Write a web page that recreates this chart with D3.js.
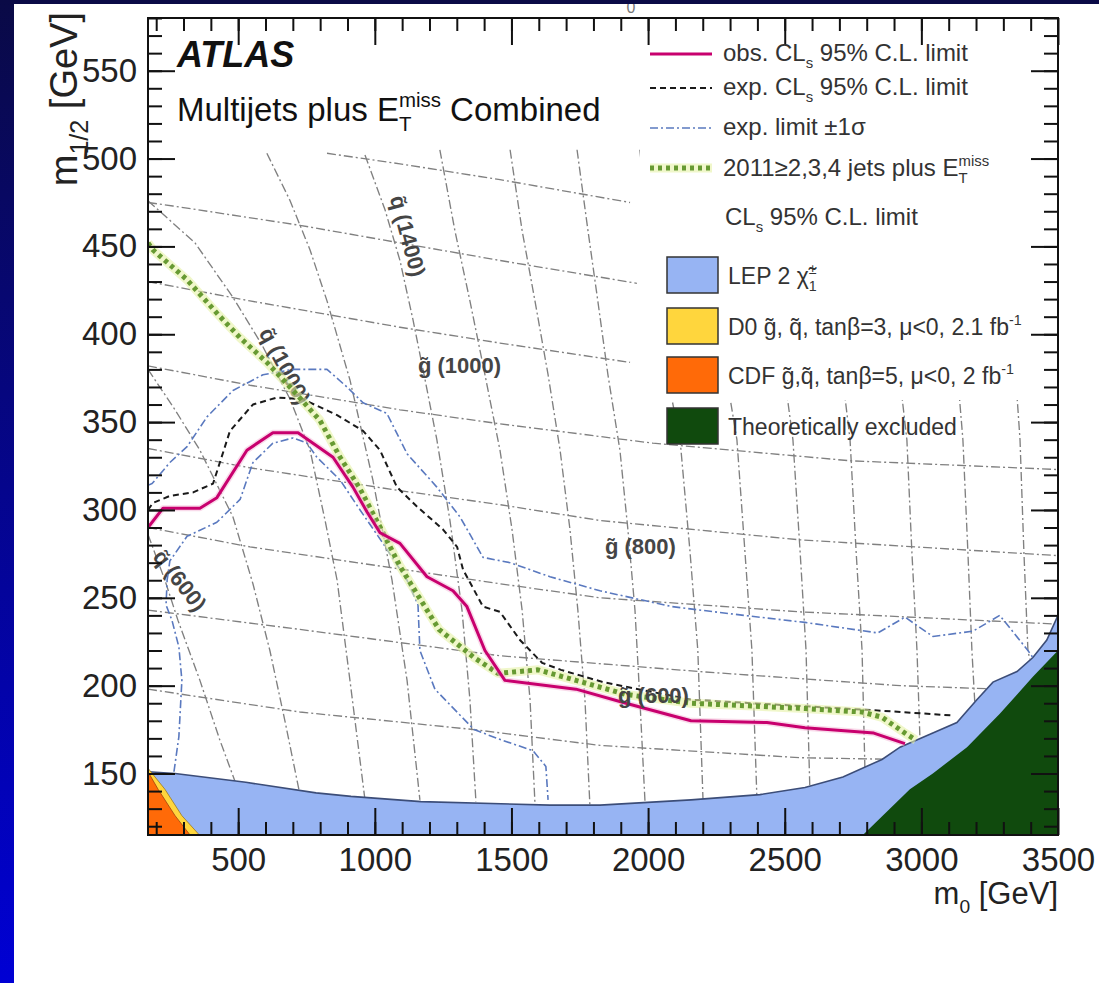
<!DOCTYPE html>
<html>
<head>
<meta charset="utf-8">
<script src="https://cdn.jsdelivr.net/npm/d3@7"></script>
<style>
  html, body { margin: 0; padding: 0; background: #fff; }
  svg { display: block; }
  svg text { font-family: "Liberation Sans", Arial, Helvetica, sans-serif; white-space: pre; }
</style>
</head>
<body>
<svg id="chart" width="1099" height="983"></svg>
<script>
// ---------------- axes ----------------
const m0Domain = [170, 3500];
const m12Domain = [115, 580];
const xMajorTicks = [500, 1000, 1500, 2000, 2500, 3000, 3500];
const xTickLabels = ["500", "1000", "1500", "2000", "2500", "3000", "3500"];
const yMajorTicks = [150, 200, 250, 300, 350, 400, 450, 500, 550];
const yTickLabels = ["150", "200", "250", "300", "350", "400", "450", "500", "550"];
const xMinorTicks = d3.range(200, 3500, 100);
const yMinorTicks = d3.range(120, 581, 10);

// ---------------- limit contours (m0, m1/2) in GeV ----------------
const observedLimit = [[170,290],[225,301],[360,301],[422,307],[532,334],[627,344],[719,344],[847,330],[920,313],[971,299],[1019,287],[1092,281],[1191,262],[1286,254],[1337,245],[1403,220],[1476,203],[1736,198],[1919,190],[2157,180],[2435,179],[2574,176],[2826,173],[2940,167]];
const expectedLimit = [[170,300],[188,304],[250,308],[335,310],[408,315],[433,327],[470,345],[554,360],[642,364],[737,363],[862,354],[957,345],[1019,334],[1081,313],[1154,302],[1249,289],[1301,279],[1323,266],[1396,245],[1458,242],[1531,226],[1612,213],[1681,209],[1835,202],[2157,192],[2826,186],[3119,183]];
const expectedPlus1Sigma = [[170,314],[185,315],[250,327],[313,336],[386,353],[481,368],[591,377],[701,380],[825,380],[898,370],[957,361],[1044,355],[1118,332],[1227,313],[1312,296],[1396,273],[1495,270],[1641,262],[1824,254],[2087,245],[2296,241],[2574,236],[2841,230],[2940,239],[3042,228],[3189,231],[3287,240],[3390,220],[3408,216]];
const expectedMinus1Sigma = [[265,151],[283,171],[294,203],[283,222],[258,237],[236,246],[240,260],[250,271],[313,285],[422,293],[507,306],[554,327],[627,338],[701,341],[752,338],[788,330],[873,317],[946,300],[1030,281],[1118,260],[1158,246],[1165,220],[1220,198],[1363,175],[1465,169],[1579,163],[1626,154],[1634,135]];
const limit2011 = [[170,452],[188,448],[313,431],[422,412],[507,398],[605,384],[701,368],[799,351],[873,330],[946,312],[1030,287],[1092,268],[1191,243],[1235,232],[1363,216],[1451,207],[1597,209],[1736,203],[1919,195],[2157,190],[2574,187],[2783,185],[2856,182],[2940,173],[2980,169]];

// ---------------- previously excluded regions ----------------
const lepChargino = [[170,151],[269,150],[528,145],[785,139],[913,137],[1169,134],[1641,132],[1824,132],[2157,135],[2409,138],[2574,142],[2713,148],[2856,158],[2922,165],[3042,173],[3130,179],[3203,192],[3262,202],[3350,208],[3408,216],[3459,226],[3500,240]];
const theoryExcluded = [[2786,115],[2958,141],[3042,150],[3167,165],[3287,184],[3408,205],[3500,220]];
const d0Limit = [[170,153],[232,141],[294,126],[358,115]];
const cdfLimit = [[170,151],[207,141],[269,126],[324,115]];

// ---------------- iso-mass contours ----------------
const squark600  = [[170,286],[232,260],[280,237],[360,203],[433,169],[499,141]];
const squark800  = [[170,380],[269,357],[360,334],[481,296],[554,258],[616,220],[671,180],[726,138]];
const squark1000 = [[170,476],[342,452],[481,421],[587,394],[690,363],[763,334],[818,294],[862,260],[909,203],[964,135]];
const squark1200 = [[605,503],[690,476],[763,448],[825,419],[909,374],[993,317],[1063,260],[1118,203],[1165,135]];
const squark1400 = [[964,502],[1037,471],[1092,442],[1140,408],[1184,374],[1227,340],[1275,294],[1319,243],[1348,192],[1370,134]];
const squark1600 = [[1238,505],[1293,459],[1348,419],[1403,377],[1458,334],[1502,289],[1539,243],[1568,192],[1586,133]];
const squark1800 = [[1495,505],[1539,459],[1586,419],[1634,377],[1678,334],[1714,289],[1743,243],[1769,192],[1787,132]];
const squark2000 = [[1740,505],[1780,459],[1816,419],[1853,377],[1897,334],[1926,289],[1952,243],[1970,192],[1989,133]];
const squark2200 = [[1970,505],[2025,419],[2073,374],[2117,340],[2153,277],[2182,220],[2201,135]];
const squark2400 = [[2190,505],[2245,419],[2289,374],[2325,340],[2354,277],[2380,220],[2398,137]];
const squark2600 = [[2409,505],[2457,419],[2501,374],[2530,340],[2556,277],[2578,220],[2592,141]];
const squark2800 = [[2629,505],[2676,419],[2713,374],[2739,340],[2761,277],[2783,220],[2794,149]];
const squark3000 = [[2848,505],[2896,419],[2922,374],[2947,340],[2965,277],[2984,220],[2995,169]];
const squark3200 = [[3068,505],[3116,419],[3134,374],[3152,340],[3170,277],[3185,220],[3196,189]];
const squark3400 = [[3287,505],[3335,419],[3346,374],[3361,340],[3375,277],[3390,220],[3397,215]];
const gluino500  = [[170,198],[726,185],[1363,175],[1824,166],[2556,159],[2922,158]];
const gluino600  = [[170,243],[726,232],[1458,217],[2190,208],[2922,200],[3287,198]];
const gluino700  = [[170,290],[543,279],[1458,258],[1824,250],[2556,242],[3500,235]];
const gluino800  = [[170,335],[543,324],[1092,311],[1458,303],[1824,294],[2556,283],[3500,274]];
const gluino900  = [[170,382],[543,371],[1092,357],[1458,349],[2018,338],[2739,328],[3500,323]];
const gluino1000 = [[170,430],[543,419],[1092,404],[1458,395],[1934,384]];
const gluino1100 = [[170,475],[261,473],[726,462],[1092,452],[1458,442],[1959,429]];
const gluino1200 = [[825,503],[1092,497],[1458,488],[1934,475]];

const squarkLabels = [
  { text: "q\u0303 (1400)", m0: 1121, m12: 456 },
  { text: "q\u0303 (1000)", m0: 671, m12: 382 },
  { text: "q\u0303 (600)",  m0: 287, m12: 260 }
];
const gluinoLabels = [
  { text: "g\u0303 (1000)", m0: 1158, m12: 378 },
  { text: "g\u0303 (800)",  m0: 1842, m12: 275 },
  { text: "g\u0303 (600)",  m0: 1890, m12: 190 }
];

const legendLineLabels = [
  ["obs. CL", { sub: "s" }, " 95% C.L. limit"],
  ["exp. CL", { sub: "s" }, " 95% C.L. limit"],
  ["exp. limit \u00b11\u03c3"],
  ["2011\u22652,3,4 jets plus E", { sup: "miss", sub: "T" }],
  ["CL", { sub: "s" }, " 95% C.L. limit"]
];
const legendBoxLabels = [
  ["LEP 2 \u03c7\u0303", { sup: "\u00b1", sub: "1" }],
  ["D0 g\u0303, q\u0303, tan\u03b2=3, \u03bc<0, 2.1 fb", { sup: "-1" }],
  ["CDF g\u0303,q\u0303, tan\u03b2=5, \u03bc<0, 2 fb", { sup: "-1" }],
  ["Theoretically excluded"]
];

// ---------------- drawing ----------------
const W = 1099, H = 983;
const frame = { left: 148, right: 1058, top: 18, bottom: 835 };
const svg = d3.select("#chart");

const x = d3.scaleLinear().domain(m0Domain).range([frame.left, frame.right]);
const y = d3.scaleLinear().domain(m12Domain).range([frame.bottom, frame.top]);
const line = d3.line().x(d => x(d[0])).y(d => y(d[1]));
const area = pts => line(pts) + "Z";

// slide background and white sheet
const defs = svg.append("defs");
const bg = defs.append("linearGradient").attr("id", "slideBg")
  .attr("x1", 0).attr("y1", 0).attr("x2", 0).attr("y2", 1);
bg.append("stop").attr("offset", 0).attr("stop-color", "#0a0a46");
bg.append("stop").attr("offset", 1).attr("stop-color", "#0000d4");
svg.append("rect").attr("width", W).attr("height", H).attr("fill", "url(#slideBg)");
svg.append("rect").attr("x", 14).attr("y", 4).attr("width", W - 14).attr("height", H - 4).attr("fill", "#fff");

defs.append("clipPath").attr("id", "plotClip").append("rect")
  .attr("x", frame.left).attr("y", frame.top)
  .attr("width", frame.right - frame.left).attr("height", frame.bottom - frame.top);

const plot = svg.append("g").attr("clip-path", "url(#plotClip)");

// iso-mass grid
const isoContours = [squark600, squark800, squark1000, squark1200, squark1400, squark1600, squark1800,
  squark2000, squark2200, squark2400, squark2600, squark2800, squark3000, squark3200, squark3400,
  gluino500, gluino600, gluino700, gluino800, gluino900, gluino1000, gluino1100, gluino1200];
plot.append("g").selectAll("path").data(isoContours).join("path")
  .attr("d", line).attr("fill", "none")
  .attr("stroke", "#808080").attr("stroke-width", 1.35)
  .attr("stroke-dasharray", "9,3,2,3");

// legend panel background
plot.append("rect").attr("x", 640).attr("y", 20).attr("width", 416).attr("height", 380).attr("fill", "#fff");

// excluded regions
const lepColor = "#97b4f3", d0Color = "#ffd63d", cdfColor = "#ff6a08", theoColor = "#104a0d";
plot.append("path").attr("d", area([...lepChargino, [3500, 115], [170, 115]])).attr("fill", lepColor);
plot.append("path").attr("d", line(lepChargino)).attr("fill", "none").attr("stroke", "#3c4d78").attr("stroke-width", 1.6);
plot.append("path").attr("d", area([...theoryExcluded, [3500, 115]])).attr("fill", theoColor);
plot.append("path").attr("d", area([...d0Limit, [170, 115]])).attr("fill", d0Color)
  .attr("stroke", "#9a7a20").attr("stroke-width", 0.8);
plot.append("path").attr("d", area([...cdfLimit, [170, 115]])).attr("fill", cdfColor)
  .attr("stroke", "#a04010").attr("stroke-width", 0.8);

// squark iso-mass labels sit under the limit curves
squarkLabels.forEach((d, i) => {
  const angle = [75, 62, 52][i];
  plot.append("text").attr("transform", `translate(${x(d.m0)},${y(d.m12)}) rotate(${angle})`)
    .attr("text-anchor", "middle").attr("dy", "0.35em")
    .attr("font-size", 22).attr("font-weight", "bold").attr("fill", "#454545").text(d.text);
});

// limit curves
const styles = {
  sigma: { stroke: "#5a79bf", width: 1.6, dash: "8,3,2,3" },
  expected: { stroke: "#1a1a1a", width: 2, dash: "6,4" },
  y2011: { stroke: "#679a32", width: 5, dash: "4,4" },
  observed: { stroke: "#c8006e", width: 3, dash: null }
};
function curve(g, pts, s) {
  return g.append("path").attr("d", line(pts)).attr("fill", "none")
    .attr("stroke", s.stroke).attr("stroke-width", s.width)
    .attr("stroke-dasharray", s.dash).attr("stroke-linejoin", "round");
}
curve(plot, expectedPlus1Sigma, styles.sigma);
curve(plot, expectedMinus1Sigma, styles.sigma);
curve(plot, expectedLimit, styles.expected);
plot.append("path").attr("d", line(limit2011)).attr("fill", "none")
  .attr("stroke", "#e6f2a6").attr("stroke-width", 9).attr("stroke-opacity", 0.6).attr("stroke-linejoin", "round");
curve(plot, limit2011, styles.y2011);
plot.append("path").attr("d", line(observedLimit)).attr("fill", "none")
  .attr("stroke", "#f4b6d6").attr("stroke-width", 6).attr("stroke-opacity", 0.5).attr("stroke-linejoin", "round");
curve(plot, observedLimit, styles.observed);

// gluino iso-mass labels on top
gluinoLabels.forEach(d => {
  plot.append("text").attr("x", x(d.m0)).attr("y", y(d.m12))
    .attr("font-size", 22).attr("font-weight", "bold").attr("fill", "#454545").text(d.text);
});

// frame and ticks
svg.append("rect").attr("x", frame.left).attr("y", frame.top)
  .attr("width", frame.right - frame.left).attr("height", frame.bottom - frame.top)
  .attr("fill", "none").attr("stroke", "#111").attr("stroke-width", 2);

function styleAxis(g, fontSize) {
  g.select(".domain").remove();
  g.selectAll(".tick line").attr("stroke", "#111").attr("stroke-width", 2);
  g.selectAll(".tick text").attr("font-size", fontSize).attr("fill", "#222")
    .attr("font-family", "'Liberation Sans', Arial, Helvetica, sans-serif");
  g.attr("font-size", null).attr("font-family", null);
}
const tickFont = 33;
svg.append("g").attr("transform", `translate(0,${frame.bottom})`)
  .call(d3.axisBottom(x).tickValues(xMajorTicks).tickFormat((d, i) => xTickLabels[i])
    .tickSizeInner(-27).tickSizeOuter(0).tickPadding(13))
  .call(g => styleAxis(g, tickFont));
svg.append("g").attr("transform", `translate(0,${frame.bottom})`)
  .call(d3.axisBottom(x).tickValues(xMinorTicks).tickFormat("").tickSizeInner(-13).tickSizeOuter(0))
  .call(g => styleAxis(g, tickFont));
svg.append("g").attr("transform", `translate(0,${frame.top})`)
  .call(d3.axisTop(x).tickValues(xMajorTicks).tickFormat("").tickSizeInner(-27).tickSizeOuter(0))
  .call(g => styleAxis(g, tickFont));
svg.append("g").attr("transform", `translate(0,${frame.top})`)
  .call(d3.axisTop(x).tickValues(xMinorTicks).tickFormat("").tickSizeInner(-13).tickSizeOuter(0))
  .call(g => styleAxis(g, tickFont));
svg.append("g").attr("transform", `translate(${frame.left},0)`)
  .call(d3.axisLeft(y).tickValues(yMajorTicks).tickFormat((d, i) => yTickLabels[i])
    .tickSizeInner(-27).tickSizeOuter(0).tickPadding(11))
  .call(g => styleAxis(g, tickFont));
svg.append("g").attr("transform", `translate(${frame.left},0)`)
  .call(d3.axisLeft(y).tickValues(yMinorTicks).tickFormat("").tickSizeInner(-14).tickSizeOuter(0))
  .call(g => styleAxis(g, tickFont));
svg.append("g").attr("transform", `translate(${frame.right},0)`)
  .call(d3.axisRight(y).tickValues(yMajorTicks).tickFormat("").tickSizeInner(-27).tickSizeOuter(0))
  .call(g => styleAxis(g, tickFont));
svg.append("g").attr("transform", `translate(${frame.right},0)`)
  .call(d3.axisRight(y).tickValues(yMinorTicks).tickFormat("").tickSizeInner(-14).tickSizeOuter(0))
  .call(g => styleAxis(g, tickFont));

// text with sub/superscripts laid out piece by piece
function richText(parent, px, py, size, parts, o = {}) {
  const outer = parent.append("g")
    .attr("transform", `translate(${px},${py})` + (o.rotate ? ` rotate(${o.rotate})` : ""));
  const inner = outer.append("g");
  const fill = o.fill || "#1e1e1e";
  const subScale = o.subScale || 0.62;
  let cx = 0;
  const mk = (str, tx, ty, fs) => inner.append("text").attr("x", tx).attr("y", ty)
    .attr("font-size", fs).attr("font-weight", o.weight || "normal")
    .attr("font-style", o.fontStyle || "normal").attr("fill", fill).text(str);
  parts.forEach(p => {
    if (typeof p === "string") {
      cx += mk(p, cx, 0, size).node().getComputedTextLength();
    } else {
      const fs = size * subScale;
      let w = 0;
      if (p.sup !== undefined) w = Math.max(w, mk(p.sup, cx, -size * 0.42, fs).node().getComputedTextLength());
      if (p.sub !== undefined) w = Math.max(w, mk(p.sub, cx, size * 0.3, fs).node().getComputedTextLength());
      cx += w;
    }
  });
  if (o.anchor === "end") inner.attr("transform", `translate(${-cx},0)`);
  if (o.anchor === "middle") inner.attr("transform", `translate(${-cx / 2},0)`);
  return outer;
}

// axis titles
richText(svg, 1058, 904, 31, ["m", { sub: "0" }, " [GeV]"], { anchor: "end", fill: "#222" });
richText(svg, 77, 12, 38, ["m", { sub: "1/2" }, " [GeV]"], { anchor: "end", rotate: -90, fill: "#222", subScale: 0.66 });

// headline
richText(svg, 177, 67, 36, ["ATLAS"], { weight: "bold", fontStyle: "italic", fill: "#111" });
richText(svg, 177, 121, 33, ["Multijets plus E", { sup: "miss", sub: "T" }, " Combined"], { fill: "#111" });

// legend: curves
const legendRowY = [54, 88, 128, 168];
const legendTextY = [61, 95, 135, 176, 225];
const sampleStyles = ["observed", "expected", "sigma", "y2011"];
sampleStyles.forEach((k, i) => {
  const s = styles[k];
  if (k === "y2011") {
    svg.append("line").attr("x1", 650).attr("x2", 712).attr("y1", legendRowY[i]).attr("y2", legendRowY[i])
      .attr("stroke", "#e6f2a6").attr("stroke-width", 9).attr("stroke-opacity", 0.6);
  }
  svg.append("line").attr("x1", 650).attr("x2", 712).attr("y1", legendRowY[i]).attr("y2", legendRowY[i])
    .attr("stroke", s.stroke).attr("stroke-width", s.width).attr("stroke-dasharray", s.dash);
});
legendLineLabels.forEach((parts, i) => {
  richText(svg, i === 4 ? 725 : 723, legendTextY[i], 24, parts, { fill: "#333" });
});

// legend: filled regions
const boxY = [257, 308, 357, 408];
const boxFill = [lepColor, d0Color, cdfColor, theoColor];
boxY.forEach((by, i) => {
  svg.append("rect").attr("x", 667).attr("y", by).attr("width", 51).attr("height", 36)
    .attr("fill", boxFill[i]).attr("stroke", "#333").attr("stroke-width", 1.5);
  richText(svg, 728, by + 27, 23, legendBoxLabels[i], { fill: "#333" });
});

// clipped caption fragment at the sheet's top edge
svg.append("text").attr("x", 631).attr("y", 13).attr("text-anchor", "middle")
  .attr("font-size", 16).attr("fill", "#777").text("0");
svg.append("rect").attr("x", 14).attr("y", 0).attr("width", W - 14).attr("height", 4).attr("fill", "#0a0a46");
</script>
</body>
</html>
